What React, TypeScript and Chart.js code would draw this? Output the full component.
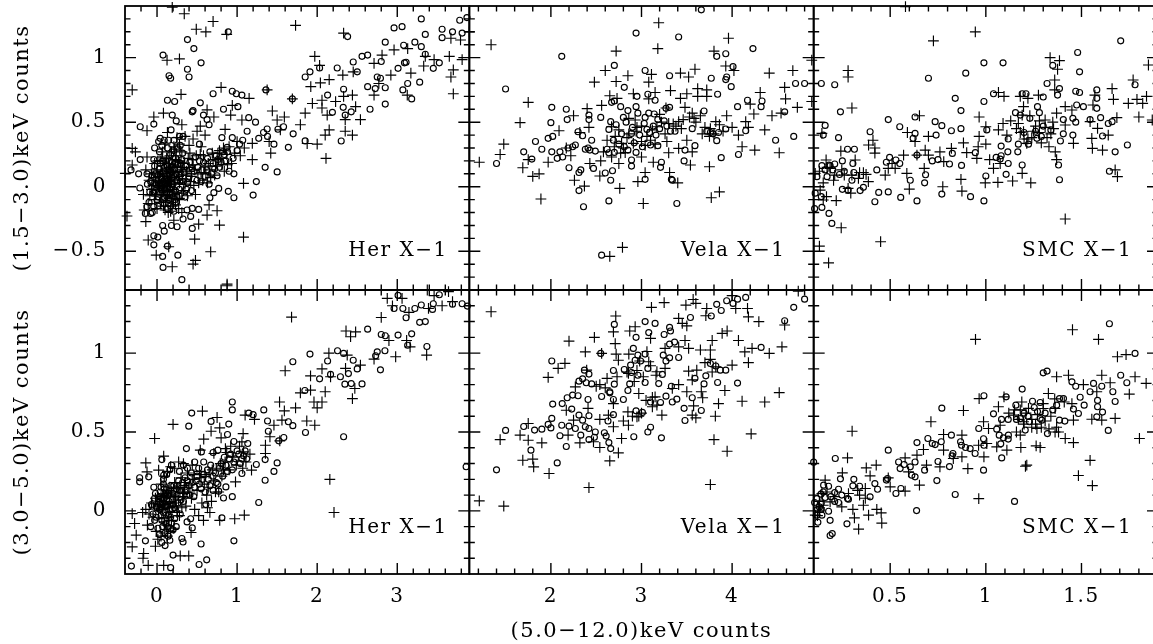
import React, { useEffect, useRef } from "react";
import { Chart, registerables } from "chart.js";

Chart.register(...registerables);

type Pt = [number, number];

const herSoftCircles: Pt[] = [[.075,1.02],[.38,1.14],[.46,1.07],[.55,.96],[.38,.91],[.4,.85],[.15,.86],[.17,.84],[.89,1.2],[.94,.74],[.99,.72],[1.06,.71],[.7,.72],[.54,.65],[.22,.66],[.13,.67],[.44,.58],[.45,.59],[.83,.6],[1.01,.62],[.58,.555],[.625,.52],[.65,.48],[.19,.555],[.24,.51],[-.21,.465],[-.04,.485],[.175,.44],[.04,.375],[.02,.35],[-.03,.3],[.145,.36],[.21,.36],[.28,.39],[.325,.39],[.29,.32],[.53,.33],[.81,.38],[.94,.38],[.875,.305],[1.07,.36],[1.125,.43],[1.145,.535],[1.23,.5],[1.27,.375],[1.33,.42],[1.375,.447],[1.38,.39],[1.46,.33],[1.35,.15],[1.5,.115],[1.51,.445],[1.58,.465],[1.64,.305],[1.7,.41],[1.69,.68],[1.36,.75],[1.85,.355],[1.85,.85],[1.91,.89],[2.03,.92],[2.25,.92],[2.13,.71],[2.33,.755],[2.19,.576],[2.325,.615],[2.3,.354],[2.35,.555],[2.425,.58],[2.5,.89],[2.45,.966],[2.56,1.01],[2.63,1.02],[2.63,.775],[2.725,.76],[2.66,.6],[2.75,.85],[2.79,.84],[2.8,.97],[2.85,1.12],[2.85,.767],[2.85,.64],[2.96,1.23],[3.06,1.24],[3.01,.917],[3.09,.96],[3.11,.964],[3.08,1.096],[3.13,.8],[3.07,.75],[3.18,.68],[3.22,1.12],[3.3,1.085],[3.3,1.3],[3.35,1.18],[3.35,1.026],[3.28,.81],[3.45,.917],[3.525,.96],[3.56,1.22],[3.56,1.155],[3.69,1.2],[3.78,1.29],[3.81,1.19],[3.87,1.31],[2.38,1.163],[1.24,.04],[1.2,-.065],[.96,-.085],[.89,-.036],[.96,.1],[.75,.085],[.77,-.013],[.66,-.085],[.71,-.046],[.44,-.168],[.52,-.176],[.375,-.18],[.42,-.23],[.325,-.25],[.25,-.31],[.18,-.3],[.07,-.3],[.09,-.344],[.44,-.323],[-.04,-.38],[.01,-.39],[-.04,-.45],[.13,-.46],[.26,-.53],[.07,-.54],[.075,-.625],[.31,-.72],[-.325,.13],[-.23,.1],[-.21,.21],[-.215,-.01],[-.125,.1],[-.146,-.207],[-.08,-.207],[-.125,-.155],[-.04,-.155],[.02,.05],[.05,-.02],[.08,.12],[.1,.03],[.12,-.05],[.15,.08],[.18,.02],[.2,-.08],[.22,.14],[.25,.05],[.28,-.02],[.04,.18],[.07,-.1],[.11,.2],[.14,-.13],[.17,.25],[.21,.28],[.24,-.12],[.3,.1],[.33,.04],[.36,.16],[.4,.08],[.43,-.03],[.46,.12],[.5,.05],[.53,.2],[.56,.13],[.6,.08],[.63,.22],[.66,.27],[.7,.18],[.74,.24],[.78,.15],[.82,.27],[.86,.2],[.9,.12],[.95,.22],[1,.28],[1.03,.33],[-.02,.1],[-.05,-.05],[-.08,.04],[-.03,.16],[0,-.1],[.01,-.15],[-.1,-.12],[-.06,-.2],[.03,.27],[.06,.32],[.09,.36],[.13,.3],[.16,.1],[.19,.19],[.23,.22],[.26,.3],[.29,.18],[.32,.26],[.35,-.08],[.38,.03],[.03,-.04],[.06,.07],[.09,-.08],[.13,.01],[.16,-.02],[.19,.07],[.09,.15],[.12,.1],[-.01,.02],[.23,-.03]];

const herSoftCoreCircles: Pt[] = [[.01,.09],[.03,.14],[.05,.06],[.07,.2],[.09,-.13],[.11,.06],[.13,.16],[.15,-.1],[.17,.12],[.19,-.05],[.21,.08],[.23,.19],[.25,-.08],[.27,.13],[.29,.04],[.31,.21],[.34,.11],[.37,-.02],[.41,.19],[.44,.14],[.48,.23],[.51,.15],[.55,.04],[.58,.19],[.62,.13],[.65,.02],[.68,.1],[.72,.14],[.76,.21],[.8,.19],[.84,.25],[.88,.27],[.06,.01],[.08,.04],[.1,-.02],[.12,.17],[.14,.05],[.16,-.06],[.18,.15],[.2,.02],[.22,-.1],[.24,.1],[.26,.17],[.28,.07],[-.03,.03],[-.06,.09],[-.09,-.04],[-.12,.02],[-.02,-.03],[-.04,.21],[.02,-.08],[.04,.1],[.15,.2],[.13,-.17],[.17,-.15],[.21,-.19]];

const herSoftCrosses: Pt[] = [[.19,1.39],[.34,1.34],[.7,1.28],[.49,1.22],[.61,1.2],[.87,1.18],[1.73,1.25],[2.33,1.19],[.125,.98],[.28,.99],[-.31,.75],[.3,.715],[.8,.77],[1.15,.685],[1.375,.75],[1.69,.68],[1.97,1.01],[2.03,.94],[1.92,.775],[2.04,.805],[2.15,.83],[2.32,.865],[2.45,.89],[2.71,.955],[2.81,1.02],[2.96,1.06],[3.13,1.07],[3.35,1.01],[3.46,.985],[3.65,1.01],[3.81,.985],[3.7,.905],[3.67,.85],[3.7,.72],[3.33,.935],[3.17,.88],[2.92,.865],[2.77,.8],[2.71,.71],[3.125,.71],[3.67,1.15],[3.9,1.2],[3.79,1.137],[2.06,.67],[1.94,.645],[1.85,.57],[2.06,.61],[2.125,.555],[2.23,.66],[2.33,.7],[2.44,.71],[2.48,.62],[2.35,.52],[2.54,.52],[2.35,.43],[2.44,.4],[2.15,.44],[2.1,.4],[2,.33],[1.875,.335],[2.11,.22],[1.79,.48],[1.59,.54],[1.44,.587],[1.5,.517],[1.54,.44],[1.42,.26],[1.4,.35],[1.19,.21],[1.08,.026],[1.08,-.39],[1.06,.517],[.92,.555],[.94,.63],[.625,.595],[.71,.54],[.31,.48],[.54,.47],[.08,.57],[-.04,.54],[-.125,.434],[.85,.444],[1.19,.336],[-.31,.297],[-.27,.27],[-.125,.23],[-.31,.168],[-.375,-.227],[-.396,.103],[.75,-.186],[.625,-.22],[.78,-.297],[.52,-.29],[.47,-.406],[.67,-.504],[.48,-.57],[.45,-.6],[.19,-.62],[.146,-.465],[-.01,-.53],[-.11,-.413],[-.14,-.27],[-.16,-.18],[.21,-.26],[.875,-.755],[.65,-.14],[0,0],[.03,.08],[.06,-.06],[.09,.04],[.12,.13],[.15,-.09],[.18,.05],[.21,.16],[.24,-.05],[.27,.08],[.3,.19],[.33,-.03],[.36,.09],[.39,.22],[.42,.04],[.45,.17],[.48,-.06],[.51,.1],[.54,.25],[.57,.05],[.6,.16],[.63,.03],[.66,.13],[.69,.26],[.72,.09],[.75,.21],[.78,.28],[.81,.17],[.84,.12],[.87,.25],[.9,.31],[.93,.18],[.97,.26],[1,.35],[1.04,.24],[1.09,.3],[-.04,.07],[-.07,-.02],[-.1,.05],[-.14,.13],[-.17,-.06],[-.03,-.1],[0,-.17],[.04,.2],[.07,.27],[.1,.33],[.13,.42],[.16,.24],[.19,-.15],[.22,.29],[.25,.38],[.28,.33],[.31,.27],[.35,.39],[.4,.32],[.45,.37],[.5,.43],[.55,.31],[.6,.4],[.03,-.01],[.06,.03],[.09,-.03],[.12,.01],[.15,.06],[.11,-.11],[.17,.11],[.05,.12],[.22,.02],[.28,-.09],[.32,.13],[.13,-.07]];

const herSoftCoreCrosses: Pt[] = [[.02,.03],[.04,-.07],[.07,.1],[.08,-.03],[.1,.08],[.11,-.06],[.13,.05],[.14,.18],[.16,-.04],[.17,.02],[.19,.12],[.2,-.02],[.22,.07],[.23,.21],[.25,.12],[.26,-.1],[.28,.03],[.29,.15],[.31,-.05],[.32,.06],[.34,.18],[.35,.02],[.37,.12],[.38,-.07],[.4,.15],[.41,.26],[.43,.08],[.44,.21],[.46,.01],[.47,.13],[.49,.24],[.52,.03],[.55,.11],[.58,.24],[.61,.1],[.64,.18],[.67,.07],[.7,.21],[.73,.16],[.76,.26],[.8,.22],[.83,.3],[.88,.17],[-.02,.05],[-.05,.01],[-.07,.1],[-.09,-.07],[-.11,-.13],[-.02,-.06],[0,.13],[.01,.2],[-.03,.18],[.05,-.12],[.08,-.15],[.1,-.18],[.14,-.2],[.17,-.19],[.23,-.14],[.27,-.17],[.31,-.2],[.06,.23],[.09,.18],[.12,.22],[.15,.15],[.18,.27],[.21,.31],[.24,.24],[.27,.2],[.04,.02],[.07,-.01],[.1,.01],[.13,-.03],[.16,.03]];

const velaSoftCircles: Pt[] = [[3.66,1.37],[2.94,1.19],[3.41,1.16],[2.12,1.01],[2.7,.94],[3.93,1.03],[3.83,1.01],[4.23,1.07],[4.01,.93],[3.04,.9],[3.31,.86],[3.77,.84],[3.94,.85],[3.93,.83],[3.99,.775],[1.5,.757],[2.81,.77],[4.7,.8],[4.8,.8],[3.84,.716],[2.95,.7],[3.07,.716],[3.15,.67],[4.17,.67],[4.33,.664],[2.67,.654],[2.7,.664],[2.01,.615],[2.17,.6],[2.77,.62],[2.94,.62],[4.06,.62],[4.32,.62],[2.18,.52],[2.42,.555],[2.42,.52],[2.55,.537],[2.85,.59],[2.96,.57],[3.04,.537],[3.08,.57],[3.14,.563],[3.18,.52],[3.27,.607],[3.31,.615],[3.69,.587],[4.58,.58],[2,.496],[2.66,.504],[2.8,.537],[3.25,.51],[2.64,.444],[2.3,.426],[2.35,.395],[1.97,.375],[2.02,.39],[1.83,.35],[2.45,.36],[2.69,.36],[3.06,.444],[3.32,.43],[3.37,.43],[3.56,.45],[3.93,.447],[4.15,.434],[3.76,.42],[4.68,.39],[4.48,.36],[3.83,.357],[3.16,.4],[2.89,.413],[1.7,.27],[1.9,.29],[2.01,.27],[2.1,.27],[2.07,.22],[2.13,.23],[2.19,.3],[2.24,.31],[2.27,.323],[2.38,.29],[2.41,.3],[2.43,.284],[2.49,.276],[2.62,.29],[2.64,.263],[2.7,.266],[3.01,.31],[3.1,.323],[3.18,.318],[2.94,.266],[2.85,.284],[3.48,.284],[3.59,.318],[3.88,.225],[4.07,.25],[1.4,.18],[1.79,.214],[2.2,.147],[2.47,.142],[2.89,.207],[2.89,.16],[3.22,.19],[3.21,.15],[3.47,.2],[2.33,.13],[2.31,.11],[2.6,.106],[2.68,.124],[2.66,.05],[3.04,.057],[3.33,.057],[3.34,.05],[2.31,-.03],[2.64,-.11],[2.36,-.155],[3.39,-.13],[2.56,-.53],[2.72,.48],[2.78,.41],[2.83,.5],[2.9,.46],[2.98,.4],[3.03,.49],[3.09,.42],[3.13,.47],[3.2,.45],[3.28,.47],[3.72,.43],[3.79,.41],[3.85,.42],[2.75,.33],[2.81,.31],[2.92,.34]];

const velaSoftCrosses: Pt[] = [[3.19,1.27],[3.96,1.15],[1.34,1.1],[2.72,1.05],[3.18,1.07],[3.8,1.05],[3.93,.935],[4.02,.9],[2.6,.9],[2.48,.81],[2.72,.815],[2.85,.86],[3.11,.87],[3.08,.81],[3.43,.88],[3.52,.85],[3.59,.91],[4.41,.88],[4.67,.9],[4.58,.77],[4.59,.68],[4.72,.615],[4.31,.73],[4.2,.64],[1.75,.654],[1.66,.496],[1.48,.33],[1.44,.25],[1.21,.19],[1.69,.147],[1.75,.21],[1.8,.08],[1.87,.1],[1.89,-.095],[1.97,.19],[2.09,.434],[2.25,.55],[2.4,.605],[2.56,.63],[2.65,.705],[2.73,.685],[2.91,.72],[3.15,.73],[3.32,.744],[3.43,.685],[3.5,.72],[3.62,.76],[3.62,.7],[3.72,.75],[3.72,.7],[3.08,.68],[3.27,.61],[3.48,.615],[3.56,.57],[3.65,.55],[3.94,.55],[3.82,.504],[3.76,.45],[4,.46],[4.15,.504],[4.24,.563],[4.44,.55],[4.54,.57],[4.36,.44],[4.07,.4],[4.18,.46],[4.11,.31],[4.25,.284],[4.52,.263],[3.75,.155],[3.54,.168],[3.56,.27],[3.41,.297],[3.3,.263],[3.75,.39],[3.67,.41],[3.5,.36],[3.35,.486],[3.41,.504],[3.17,.465],[3,.47],[2.93,.517],[2.86,.53],[2.75,.44],[2.67,.465],[2.42,.46],[2.32,.42],[2.17,.3],[2.22,.24],[2.43,.18],[2.55,.2],[2.67,.23],[2.75,.18],[2.82,.264],[2.91,.336],[3,.35],[3.1,.36],[3,.23],[3.13,.19],[3.31,.11],[3.4,.03],[2.96,.04],[3.04,.11],[2.76,-.013],[2.54,.083],[2.26,.05],[2.37,.005],[3.02,-.13],[3.77,-.085],[3.86,-.04],[2.65,-.54],[2.79,-.47],[2.86,.41],[2.71,.39],[2.78,.336],[3.26,.41],[2.62,.36],[2.8,.3],[2.95,.46],[3.06,.39],[3.22,.5],[3.44,.45],[3.6,.5],[3.28,.35],[3.15,.33],[2.58,.27],[2.7,.31],[2.77,.26],[2.84,.38],[2.94,.43],[3.04,.32],[3.12,.44],[3.2,.56],[3.3,.49],[3.38,.47],[3.46,.52],[3.53,.54],[3.58,.53],[3.7,.46],[3.8,.41],[3.86,.48],[3.9,.43]];

const smcSoftCircles: Pt[] = [[1.705,1.13],[1.48,1.04],[1.49,.89],[1.35,.94],[.99,.96],[1.09,.96],[.895,.88],[.7,.84],[.14,.8],[.21,.79],[1.32,.8],[.84,.685],[.99,.66],[1.04,.72],[1.385,.76],[1.375,.71],[1.47,.74],[1.49,.73],[1.58,.75],[1.58,.685],[1.78,.79],[1.19,.72],[1.21,.72],[1.3,.695],[.24,.58],[.87,.59],[.63,.54],[.49,.52],[.735,.504],[.77,.473],[.55,.465],[.16,.475],[.15,.4],[.23,.38],[.395,.426],[.63,.413],[.62,.375],[.74,.4],[.82,.434],[.87,.45],[1.005,.44],[1.155,.574],[1.18,.555],[1.23,.53],[1.27,.62],[1.28,.574],[1.51,.62],[1.475,.633],[1.58,.607],[1.405,.52],[1.455,.53],[1.47,.5],[1.545,.52],[1.6,.535],[1.64,.49],[1.66,.504],[1.61,.393],[1.405,.41],[1.455,.4],[1.39,.354],[1.117,.37],[1.74,.323],[1.676,.27],[1.646,.12],[1.117,.18],[1.19,.168],[1.38,.168],[1.385,.054],[1.106,.096],[1,.083],[1.167,.27],[1.115,.27],[1.08,.24],[1.054,.227],[1.075,.214],[1.08,.315],[.945,.264],[.873,.165],[.81,.176],[.75,.21],[.72,.2],[.825,.258],[.64,.245],[.55,.18],[.53,.207],[.497,.227],[.48,.19],[.43,.13],[.605,.05],[.68,.03],[.685,.093],[.77,-.057],[.92,-.077],[.99,-.11],[.64,-.11],[.555,-.083],[.49,-.04],[.44,-.044],[.42,-.116],[.343,-.03],[.36,-.005],[.28,-.026],[.25,-.02],[.31,.11],[.305,.18],[.277,.29],[.313,.29],[.25,.2],[.21,.176],[.186,.163],[.18,.168],[.143,.163],[.117,.078],[.17,.078],[.235,.095],[.108,-.05],[.14,-.077],[.18,-.207],[.143,-.16],[.105,-.17],[.195,-.284],[1.29,.39],[1.267,.375],[1.223,.33],[1.17,.33],[1.26,.43],[1.3,.47],[1.2,.42],[1.34,.44],[.16,.13],[.2,.13],[.26,.12],[.3,.05]];

const smcSoftCrosses: Pt[] = [[.58,1.395],[.945,1.2],[.726,1.13],[.09,.98],[.28,.9],[.28,.85],[.09,.66],[.3,.61],[.143,.413],[1.336,1],[1.385,.977],[1.375,.91],[1.36,.827],[1.36,.75],[1.066,.73],[1.095,.7],[1.18,.7],[1.22,.685],[1.275,.71],[1.197,.62],[1.19,.555],[1.66,.76],[1.667,.677],[1.77,.827],[1.745,.646],[1.79,.677],[1.82,.646],[1.85,.943],[1.84,.7],[1.8,.54],[1.685,.535],[1.87,.517],[1.64,.4],[1.61,.284],[1.557,.297],[1.554,.375],[1.584,.452],[1.545,.504],[1.56,.633],[1.57,.71],[1.458,.336],[1.45,.594],[1.415,.62],[1.37,.57],[1.415,.478],[1.676,.13],[1.688,.078],[1.415,-.25],[.965,.54],[.653,.55],[1.09,.49],[1,.465],[1.066,.44],[1.11,.4],[1.17,.49],[1.197,.426],[1.214,.336],[1.31,.517],[1.354,.45],[1.33,.31],[1.363,.27],[1.37,.21],[.965,.39],[1,.33],[.96,.31],[.883,.34],[.82,.297],[.76,.27],[.7,.39],[.683,.284],[.7,.245],[.63,.35],[.59,.42],[.64,.245],[.57,.245],[.51,.18],[.49,.142],[.587,.103],[.678,.142],[.78,.194],[.9,.264],[.953,.22],[1.02,.21],[1.04,.142],[1.075,.18],[1.19,.103],[1.14,.044],[1.063,.034],[.997,.03],[1.235,.03],[.87,.057],[.775,0],[.875,-.034],[.6,-.018],[.45,-.426],[.244,-.318],[.13,-.46],[.178,-.59],[.218,-.108],[.15,-.103],[.167,-.077],[.134,-.026],[.294,-.05],[.28,-.013],[.386,.04],[.374,.096],[.334,.065],[.474,.09],[.526,.142],[.42,.26],[.42,.3],[.41,.36],[.387,.323],[.317,.207],[.242,.276],[.165,.207],[.108,.103],[.15,.03],[.204,.05],[.247,.13],[.186,.142],[1.22,.37],[1.25,.43],[1.29,.34],[1.26,.47],[1.34,.41],[1.31,.46],[1.23,.55],[1.18,.42],[1.2,.37],[1.24,.38],[1.28,.42],[1.32,.38],[1.35,.5],[1.28,.51],[1.16,.45],[1.13,.51],[.13,.12],[.17,.15],[.21,.09],[.26,.09],[.3,.09],[.34,.11],[.36,.11]];

const herHardCircles: Pt[] = [[3.86,.28],[2.33,.47],[1.27,.053],[.96,-.19],[.55,-.21],[.62,-.31],[.525,-.34],[.17,-.36],[-.32,-.35],[.2,-.28],[.1,-.22],[-.145,-.19],[.44,-.108],[.375,-.07],[.16,-.186],[.31,-.175],[.325,-.197],[.81,-.044],[.83,.082],[.94,.09],[1.35,.194],[1.46,.25],[1.5,.304],[1.35,.325],[1.24,.294],[1.06,.237],[.86,.152],[.77,.125],[-.217,.21],[-.217,.184],[-.104,.216],[.083,.226],[.06,.325],[.18,.29],[.367,.395],[.396,.537],[.433,.62],[.675,.567],[.896,.55],[.88,.484],[.94,.69],[.94,.64],[.96,.44],[.76,.385],[.7,.37],[.554,.374],[.583,.31],[1.133,.427],[1.146,.62],[1.2,.61],[1.333,.64],[1.38,.57],[1.39,.505],[1.52,.444],[1.583,.465],[1.64,.565],[1.696,.54],[1.854,.497],[1.696,.945],[1.91,.994],[1.846,.763],[2.13,.95],[2.03,.837],[2.254,1.015],[2.167,.865],[2.29,.85],[2.346,.803],[2.39,.87],[2.425,.807],[2.45,.955],[2.5,.9],[2.56,.805],[2.33,.998],[2.63,1.152],[2.79,.894],[2.73,.983],[2.75,1.008],[2.8,1.118],[2.85,1.11],[2.846,1.015],[3.01,1.114],[3.18,1.122],[3.13,1.05],[3.37,1.042],[3.28,1.195],[3.35,1.2],[3.01,1.366],[2.96,1.283],[3.07,1.283],[3.11,1.224],[3.22,1.283],[3.3,1.305],[3.44,1.277],[3.45,1.313],[3.525,1.37],[3.81,1.313],[3.875,1.298],[3.69,1.31],[0,.02],[.03,.09],[.05,-.03],[.07,.05],[.09,.14],[.11,-.08],[.13,.03],[.15,.11],[.17,-.04],[.19,.07],[.21,.16],[.23,.01],[.25,.1],[.27,.19],[.29,-.02],[.31,.13],[.33,.06],[.35,.21],[.37,.1],[.4,.16],[.43,.24],[.46,.09],[.49,.19],[.52,.27],[.55,.14],[.58,.23],[.61,.04],[.64,.2],[.67,.29],[.7,.13],[.73,.24],[.76,.17],[.8,.3],[.84,.34],[.88,.25],[.92,.36],[.96,.31],[1,.38],[1.04,.3],[1.08,.35],[1.12,.33],[-.03,-.06],[-.06,.03],[-.08,-.1],[-.02,.11],[-.04,.15],[.01,-.11],[.03,-.15],[.06,-.2],[.08,.2],[.12,.23],[.16,.26],[.2,-.12],[.24,-.1],[.28,.25],[.33,.29],[.38,.27],[.42,-.05],[.47,.31],[.04,.04],[.08,-.01],[.12,.07],[.16,.01],[.1,.1],[.14,-.03],[.06,.08],[.2,.04],[.22,-.05]];

const herHardCoreCircles: Pt[] = [[.02,.06],[.04,.12],[.06,-.06],[.08,.17],[.09,.03],[.11,.12],[.13,-.1],[.15,.06],[.17,.16],[.18,-.08],[.2,.11],[.22,.02],[.24,.14],[.26,.05],[.28,.13],[.3,.07],[.32,.18],[.35,.12],[.38,.19],[.41,.1],[.44,.18],[.47,.15],[.5,.22],[.53,.17],[.57,.2],[.6,.12],[.63,.26],[.66,.16],[.7,.22],[.74,.18],[.78,.27],[.82,.22],[.86,.29],[.9,.33],[.94,.26],[.98,.33],[1.02,.36],[1.06,.33],[1.1,.38],[-.01,.03],[-.03,.08],[-.05,-.02],[-.07,.04],[-.01,-.04],[.03,.01],[.07,-.1],[.1,-.14],[.14,-.16],[.17,-.11],[.05,.15],[.11,.03],[.15,-.02],[.19,.01],[.13,.1],[.09,.08]];

const herHardCrosses: Pt[] = [[1.68,1.228],[1.6,.888],[1.53,.69],[1.59,.634],[1.73,.653],[1.46,.543],[1.56,.575],[1.87,.57],[1.97,.543],[1.217,.58],[1.1,.607],[.567,.632],[.2,.548],[-.03,.459],[.75,.592],[.783,.526],[.675,.505],[.583,.455],[.8,.463],[1.075,.49],[1.06,.437],[1.41,.47],[1.354,.416],[1.354,.364],[1.533,.444],[1.18,.258],[.98,.184],[2.158,.2],[2.21,-.01],[.97,-.05],[1.09,-.027],[.783,-.06],[1.79,.748],[1.917,.765],[1.96,.69],[2.1,.755],[2.06,.69],[2,.653],[1.917,.856],[2.06,.9],[2.146,1],[2.167,.85],[2.354,.903],[2.375,.987],[2.48,1.135],[2.36,1.14],[2.417,1.104],[2.44,.712],[2.47,.776],[2.54,.924],[2.71,.962],[2.98,.977],[3.367,.987],[3.16,1.04],[3.117,1.08],[2.896,1.08],[2.8,1.226],[2.875,1.347],[3.06,1.347],[2.94,1.3],[3.146,1.258],[3.375,1.4],[3.39,1.283],[3.56,1.3],[3.64,1.39],[3.69,1.326],[3.46,1.364],[.875,1.427],[1.08,.374],[.854,.395],[.71,.364],[.54,.385],[.44,.29],[.083,.347],[-.14,.304],[-.125,.247],[.02,.258],[.27,.31],[-.31,-.017],[-.28,-.08],[-.26,-.154],[-.31,-.228],[-.167,-.27],[-.175,-.3],[-.11,-.345],[.083,-.345],[.29,-.285],[.396,-.285],[-.02,-.224],[.425,-.137],[.02,0],[.04,.06],[.06,-.05],[.08,.1],[.1,.02],[.12,-.09],[.14,.13],[.16,.05],[.18,-.06],[.2,.1],[.22,.18],[.24,.03],[.26,.14],[.28,-.03],[.3,.21],[.32,.09],[.34,.16],[.36,.03],[.38,.24],[.41,.12],[.44,.2],[.47,.01],[.5,.13],[.53,.25],[.56,.05],[.59,.17],[.62,.1],[.65,.24],[.68,.06],[.71,.19],[.74,.27],[.77,.12],[.81,.22],[.85,.31],[.9,.26],[.94,.34],[.99,.29],[1.03,.41],[1.07,.27],[1.11,.31],[1.16,.36],[-.02,.08],[-.05,-.04],[-.07,.05],[-.1,-.02],[-.12,-.09],[-.14,.01],[-.18,-.01],[-.01,-.13],[.01,-.18],[.05,-.16],[.09,-.14],[.13,-.16],[.17,-.13],[.21,-.11],[.05,.17],[.09,.22],[.13,.25],[.17,.28],[.22,.27],[.33,.3],[.52,-.03],[.58,-.06],[.63,.02],[.66,-.01],[.03,.03],[.07,.01],[.11,.06],[.15,-.01],[.19,.03],[.09,-.07],[.01,.04],[.05,.09],[.08,.04],[.12,.11],[.14,-.04],[.16,.15],[.18,.12],[.21,.05],[.23,.09],[.25,-.01],[.27,.07],[.29,.15],[.31,.02],[.33,.11],[.35,.18],[.39,.15],[.43,.08],[.46,.23],[.55,.21],[.6,.23],[.64,.15],[.69,.26],[.73,.12],[.79,.3],[.83,.26],[.87,.37],[.92,.41]];

const velaHardCircles: Pt[] = [[4.15,1.353],[4.06,1.342],[3.94,1.332],[4.01,1.315],[3.83,1.309],[3.88,1.27],[4.8,1.342],[4.68,1.29],[4.58,1.205],[3.77,1.235],[3.54,1.226],[3.04,1.2],[3.15,1.188],[2.7,1.182],[3.31,1.163],[3.32,1.14],[3.08,1.13],[3.25,1.118],[2.94,1.1],[3.365,1.07],[3.31,1.057],[4.32,1.036],[2.91,1.03],[2.55,.998],[3.04,.994],[3.24,.987],[2.96,.987],[3.41,.972],[3.31,.97],[2.01,.95],[2.93,.955],[2.99,.95],[3.07,.903],[3.27,.95],[3.76,.934],[3.82,.918],[3.87,.892],[3.93,.892],[2.37,.892],[2.69,.89],[2.81,.896],[2.88,.924],[2.89,.877],[2.96,.86],[3.23,.865],[2.42,.867],[2.35,.837],[2.31,.822],[2.39,.812],[2.45,.805],[2.7,.803],[3.04,.814],[3.19,.807],[3.33,.79],[3.71,.856],[3.84,.814],[3.69,.805],[4.06,.81],[3.59,.84],[2.87,.805],[2.85,.763],[2.65,.755],[2.56,.725],[2.3,.73],[2.24,.734],[2.18,.717],[2.125,.68],[2.02,.677],[2.41,.706],[2.65,.748],[2.8,.706],[2.69,.706],[3.27,.727],[3.56,.717],[3.34,.69],[3.39,.708],[3.47,.65],[3.66,.636],[3.21,.687],[3.1,.69],[2.23,.645],[2.31,.607],[2.42,.603],[2.69,.61],[2.63,.57],[2.94,.634],[3.01,.624],[3.48,.573],[2.01,.586],[2.35,.575],[2.12,.543],[2.2,.537],[2,.526],[1.97,.548],[1.7,.535],[1.82,.512],[1.9,.518],[1.5,.51],[2.27,.522],[2.38,.533],[2.42,.522],[2.33,.48],[2.49,.5],[2.59,.495],[2.61,.474],[2.1,.476],[2.48,.467],[2.42,.452],[2.64,.433],[2.17,.408],[2.915,.47],[3.07,.5],[3.1,.53],[3.22,.463],[2.66,.395],[1.78,.385],[2.07,.304],[1.4,.26]];

const velaHardCrosses: Pt[] = [[1.34,1.262],[3.25,1.32],[3.57,1.34],[3.49,1.304],[3.6,1.315],[3.72,1.283],[3.11,1.29],[4,1.364],[4.73,1.393],[4.04,1.283],[4.17,1.283],[4.18,1.23],[4.295,1.2],[3.71,1.237],[3.41,1.22],[3.45,1.188],[3.5,1.173],[2.93,1.167],[2.716,1.235],[2.69,1.135],[2.87,1.14],[2.48,1.1],[2.2,1.076],[2.38,1.008],[2.71,1.06],[2.72,.994],[2.56,.998],[2.86,.994],[2.745,.955],[3.1,1.093],[3.26,1.03],[3.41,1.04],[3.48,1.08],[3.52,1.03],[3.65,1.02],[3.76,1.02],[3.78,1.08],[3.89,1.125],[3.945,1.14],[4.07,1.08],[4.14,1.008],[4.22,1.03],[4.41,.998],[4.55,1.04],[4.58,1.178],[4.18,.94],[4,.924],[3.82,.913],[2.155,.935],[2.08,.903],[1.97,.846],[2.395,.892],[2.27,.786],[2.54,.8],[2.62,.84],[2.73,.85],[2.856,.871],[3.08,.945],[3.26,.903],[3.17,.882],[3.52,.886],[3.61,.892],[3.56,.83],[3.41,.8],[3.34,.776],[3.5,.755],[3.66,.755],[3.92,.763],[3.675,.717],[3.85,.68],[4.11,.695],[4.36,.69],[4.52,.75],[3.815,.6],[3.575,.666],[3.56,.607],[3.6,.59],[3.225,.607],[3.15,.723],[2.97,.744],[2.69,.68],[2.635,.607],[2.54,.58],[2.85,.628],[2.8,.57],[2.95,.596],[3,.62],[2.41,.65],[2.17,.638],[2.25,.575],[2.19,.48],[2.32,.431],[2.47,.438],[2.54,.402],[2.745,.368],[2.65,.317],[2.78,.459],[2.69,.533],[2.856,.543],[1.66,.48],[1.75,.554],[1.75,.448],[1.9,.431],[1.44,.452],[1.69,.321],[1.8,.328],[1.81,.279],[1.98,.237],[2.42,.148],[1.21,.063],[1.48,.03],[3.8,.452],[3.945,.378],[4.21,.488],[3.76,.167],[2.95,.89],[3.02,.85],[3.1,.92],[3.16,.86],[2.98,.95],[3.06,1.01],[2.84,.88],[2.92,.82],[3.12,.72],[3.05,.7],[2.9,.6],[2.97,.6],[3.12,.66],[3.17,.67],[2.6,.78],[2.5,.79],[3.7,.94],[3.76,.96],[3.78,.88]];

const smcHardCircles: Pt[] = [[1.646,1.186],[1.78,.998],[1.32,.886],[1.3,.875],[1.19,.772],[.99,.73],[1.705,.86],[1.737,.812],[1.563,.808],[1.606,.79],[1.676,.693],[1.664,.755],[1.64,.51],[1.61,.626],[1.58,.596],[1.584,.66],[1.584,.7],[1.545,.755],[1.45,.818],[1.47,.79],[1.493,.72],[1.514,.67],[1.458,.645],[1.484,.617],[1.413,.569],[1.385,.575],[1.322,.49],[1.293,.575],[1.406,.712],[1.385,.712],[1.284,.687],[1.244,.695],[1.157,.67],[1.253,.655],[1.106,.723],[1.04,.615],[.963,.522],[1.082,.58],[1.117,.58],[1.057,.518],[1.07,.48],[1.092,.463],[1.118,.48],[1.117,.455],[1.078,.425],[1.083,.336],[.988,.457],[.99,.416],[.944,.364],[.918,.395],[.894,.402],[.868,.438],[.873,.416],[.828,.364],[.824,.349],[.81,.281],[.988,.258],[.82,.48],[.77,.651],[.767,.438],[.735,.42],[.72,.427],[.697,.459],[.64,.433],[.49,.385],[.213,.332],[.1,.309],[.75,.313],[.68,.258],[.744,.192],[.84,.104],[.638,.002],[.63,.216],[.613,.226],[.605,.279],[.63,.31],[.573,.294],[.552,.268],[.544,.31],[.556,.142],[.53,.11],[.486,.205],[.48,.195],[.434,.137],[.42,.173],[.395,.089],[.34,.156],[.305,.159],[.31,.2],[.24,.203],[.277,.078],[.274,-.082],[.197,-.144],[.186,-.156],[.186,-.06],[.178,-.002],[.122,-.072],[.117,-.027],[.105,.053],[.117,.078],[.138,.106],[.152,.163],[.178,.156],[.16,.085],[.23,.137],[.23,.053],[.21,.116],[.247,.1],[.282,.074],[.13,.025],[.143,-.027],[1.228,.565],[1.206,.512],[1.18,.585],[1.284,.585],[1.16,.58],[1.2,.62],[1.22,.6],[1.27,.63],[1.31,.62],[1.35,.64],[1.37,.67],[1.15,.06],[.14,.05],[.15,.12],[.19,.09],[.21,.06],[.14,.01],[.12,.01]];

const smcHardCrosses: Pt[] = [[1.453,1.148],[1.589,1.087],[.946,1.087],[1.688,.977],[1.733,.99],[1.432,.86],[1.37,.85],[1.606,.86],[1.65,.812],[1.78,.85],[1.838,.808],[1.75,.74],[1.676,.586],[1.803,.459],[1.606,.575],[1.554,.581],[1.51,.8],[1.458,.575],[1.58,.755],[1.458,.433],[1.415,.459],[1.362,.5],[1.284,.402],[1.263,.412],[1.183,.402],[1.214,.29],[1.207,.283],[1.545,.32],[1.484,.224],[1.557,.16],[.963,.078],[.906,.268],[.99,.342],[.965,.712],[.883,.636],[.713,.565],[.301,.505],[1.095,.723],[1.066,.66],[.988,.565],[1.014,.522],[1.075,.543],[1.145,.607],[1.188,.69],[1.223,.65],[1.197,.565],[1.18,.48],[1.267,.522],[1.3,.649],[1.327,.744],[1.362,.649],[1.38,.5],[1.45,.68],[1.057,.406],[1.11,.385],[1.005,.427],[.962,.416],[.875,.48],[.779,.484],[.875,.342],[.83,.332],[.76,.279],[.779,.385],[.674,.389],[.64,.353],[.578,.336],[.69,.29],[.653,.163],[.578,.125],[.596,.247],[.49,.209],[.5,.152],[.427,.29],[.375,.273],[.395,.222],[.277,.336],[.25,.241],[.16,.195],[.37,.142],[.36,.036],[.305,.01],[.313,-.044],[.335,-.116],[.387,-.027],[.43,.01],[.453,-.013],[.456,-.078],[.247,.025],[.282,.11],[.186,.057],[.15,.036],[.108,-.027],[.143,.11],[1.15,.64],[1.17,.58],[1.21,.62],[1.24,.58],[1.27,.61],[1.31,.57],[1.34,.6],[1.37,.53],[1.12,.62],[1.24,.53],[1.18,.64],[1.2,.55],[1.26,.55],[1.3,.68],[1.33,.52],[1.36,.71],[1.41,.69],[1.16,.5],[1.29,.53],[.17,.12],[.21,.09],[.13,.06],[.34,.1],[.37,.08],[.33,.13],[.13,.02],[.12,-.03]];

const sourceLabels = ["Her X\u22121", "Vela X\u22121", "SMC X\u22121"];
const softTitle = "(1.5\u22123.0)keV counts";
const hardTitle = "(3.0\u22125.0)keV counts";
const bottomTitle = "(5.0\u221212.0)keV counts";

const herRange = [-0.4, 3.9];
const velaRange = [1.1, 4.9];
const smcRange = [0.1, 1.9];
const softRange = [-0.8, 1.4];
const hardRange = [-0.4, 1.4];

const herMajor = [0, 1, 2, 3];
const velaMajor = [2, 3, 4];
const smcMajor = [0.5, 1, 1.5];
const softMajor = [-0.5, 0, 0.5, 1];
const hardMajor = [0, 0.5, 1];

const herMinor = [-0.2, 0.2, 0.4, 0.6, 0.8, 1.2, 1.4, 1.6, 1.8, 2.2, 2.4, 2.6, 2.8, 3.2, 3.4, 3.6, 3.8];
const velaMinor = [1.2, 1.4, 1.6, 1.8, 2.2, 2.4, 2.6, 2.8, 3.2, 3.4, 3.6, 3.8, 4.2, 4.4, 4.6, 4.8];
const smcMinor = [0.2, 0.3, 0.4, 0.6, 0.7, 0.8, 0.9, 1.1, 1.2, 1.3, 1.4, 1.6, 1.7, 1.8];
const softMinor = [-0.7, -0.6, -0.4, -0.3, -0.2, -0.1, 0.1, 0.2, 0.3, 0.4, 0.6, 0.7, 0.8, 0.9, 1.1, 1.2, 1.3];
const hardMinor = [-0.3, -0.2, -0.1, 0.1, 0.2, 0.3, 0.4, 0.6, 0.7, 0.8, 0.9, 1.1, 1.2, 1.3];

const labelAnchors: [string, string, string, number, number][] = [
  ["x1", "y1", sourceLabels[0], 3.63, -0.5],
  ["x2", "y1", sourceLabels[1], 4.59, -0.5],
  ["x3", "y1", sourceLabels[2], 1.765, -0.5],
  ["x1", "y2", sourceLabels[0], 3.63, -0.108],
  ["x2", "y2", sourceLabels[1], 4.59, -0.108],
  ["x3", "y2", sourceLabels[2], 1.765, -0.108],
];

const FONT = "'DejaVu Serif', serif";
const INK = "#000";
const CANVAS_SHIFT = 24;

const frameAndTicks = {
  id: "frameAndTicks",
  beforeDraw(chart: any) {
    chart.ctx.letterSpacing = "1.5px";
  },
  afterDatasetsDraw(chart: any) {
    const { ctx, scales } = chart;
    const columns: [string, number[], number[]][] = [["x1", herMajor, herMinor], ["x2", velaMajor, velaMinor], ["x3", smcMajor, smcMinor]];
    const rows: [string, number[], number[]][] = [["y1", softMajor, softMinor], ["y2", hardMajor, hardMinor]];
    const MAJOR = 11;
    const MINOR = 5.5;
    ctx.save();
    ctx.strokeStyle = INK;
    for (const [xId, xMaj, xMin] of columns) {
      for (const [yId, yMaj, yMin] of rows) {
        const xs = scales[xId];
        const ys = scales[yId];
        ctx.lineWidth = 1.8;
        ctx.strokeRect(xs.left, ys.top, xs.right - xs.left, ys.bottom - ys.top);
        ctx.lineWidth = 1.4;
        ctx.beginPath();
        const xTick = (v: number, len: number) => {
          const p = xs.getPixelForValue(v);
          ctx.moveTo(p, ys.top);
          ctx.lineTo(p, ys.top + len);
          ctx.moveTo(p, ys.bottom);
          ctx.lineTo(p, ys.bottom - len);
        };
        const yTick = (v: number, len: number) => {
          const p = ys.getPixelForValue(v);
          ctx.moveTo(xs.left, p);
          ctx.lineTo(xs.left + len, p);
          ctx.moveTo(xs.right, p);
          ctx.lineTo(xs.right - len, p);
        };
        xMaj.forEach((v) => xTick(v, MAJOR));
        xMin.forEach((v) => xTick(v, MINOR));
        yMaj.forEach((v) => yTick(v, MAJOR));
        yMin.forEach((v) => yTick(v, MINOR));
        ctx.stroke();
      }
    }
    ctx.fillStyle = INK;
    ctx.font = `20px ${FONT}`;
    ctx.textAlign = "right";
    ctx.textBaseline = "middle";
    for (const [xId, yId, text, x, y] of labelAnchors) {
      ctx.fillText(text, scales[xId].getPixelForValue(x), scales[yId].getPixelForValue(y));
    }
    ctx.restore();
  },
};

function series(data: Pt[], xAxisID: string, yAxisID: string, marker: "circle" | "cross") {
  return {
    data,
    xAxisID,
    yAxisID,
    pointStyle: marker,
    pointRadius: marker === "circle" ? 3 : 5.4,
    pointBorderWidth: 1.15,
    pointBorderColor: INK,
    pointBackgroundColor: "rgba(0,0,0,0)",
    showLine: false,
    clip: false,
  };
}

function xAxis(range: number[], major: number[], title?: string) {
  return {
    type: "linear",
    position: "bottom",
    stack: "columns",
    stackWeight: 1,
    min: range[0],
    max: range[1],
    grid: { display: false, drawTicks: false },
    border: { display: false },
    afterBuildTicks: (axis: any) => {
      axis.ticks = major.map((value) => ({ value }));
    },
    afterFit: (axis: any) => {
      axis.height = 70;
    },
    ticks: {
      autoSkip: false,
      maxRotation: 0,
      minRotation: 0,
      padding: 11,
      color: INK,
      font: { family: FONT, size: 20 },
      callback: (v: number) => String(v),
    },
    title: title
      ? { display: true, text: title, color: INK, font: { family: FONT, size: 21 }, padding: { top: 9, bottom: 0 } }
      : { display: false },
  };
}

function yAxis(range: number[], major: number[], title: string, weight: number) {
  return {
    type: "linear",
    position: "left",
    stack: "rows",
    stackWeight: 1,
    weight,
    min: range[0],
    max: range[1],
    grid: { display: false, drawTicks: false },
    border: { display: false },
    afterBuildTicks: (axis: any) => {
      axis.ticks = major.map((value) => ({ value }));
    },
    afterFit: (axis: any) => {
      axis.width = 125;
    },
    ticks: {
      autoSkip: false,
      padding: 18,
      color: INK,
      font: { family: FONT, size: 20 },
      callback: (v: number) => String(v).replace("-", "\u2212"),
    },
    title: { display: true, text: title, color: INK, font: { family: FONT, size: 21 }, padding: { top: 10, bottom: 0 } },
  };
}

export default function App() {
  const ref = useRef<HTMLCanvasElement>(null);
  useEffect(() => {
    const chart = new Chart(ref.current as HTMLCanvasElement, {
      type: "scatter",
      data: {
        datasets: [
          series(herSoftCircles, "x1", "y1", "circle"),
          series(herSoftCoreCircles, "x1", "y1", "circle"),
          series(herSoftCrosses, "x1", "y1", "cross"),
          series(herSoftCoreCrosses, "x1", "y1", "cross"),
          series(velaSoftCircles, "x2", "y1", "circle"),
          series(velaSoftCrosses, "x2", "y1", "cross"),
          series(smcSoftCircles, "x3", "y1", "circle"),
          series(smcSoftCrosses, "x3", "y1", "cross"),
          series(herHardCircles, "x1", "y2", "circle"),
          series(herHardCoreCircles, "x1", "y2", "circle"),
          series(herHardCrosses, "x1", "y2", "cross"),
          series(velaHardCircles, "x2", "y2", "circle"),
          series(velaHardCrosses, "x2", "y2", "cross"),
          series(smcHardCircles, "x3", "y2", "circle"),
          series(smcHardCrosses, "x3", "y2", "cross"),
        ] as any,
      },
      options: {
        animation: false,
        responsive: false,
        events: [],
        layout: { autoPadding: false, padding: { left: 0, top: 6, right: 12, bottom: 0 } },
        plugins: { legend: { display: false }, tooltip: { enabled: false }, title: { display: false } },
        scales: {
          x1: xAxis(herRange, herMajor),
          x2: xAxis(velaRange, velaMajor, bottomTitle),
          x3: xAxis(smcRange, smcMajor),
          y1: yAxis(softRange, softMajor, softTitle, 2),
          y2: yAxis(hardRange, hardMajor, hardTitle, 1),
        } as any,
      },
      plugins: [frameAndTicks],
    });
    return () => chart.destroy();
  }, []);
  return (
    <div style={{ position: "fixed", left: 0, top: 0, width: 1153, height: 644, overflow: "hidden", background: "#fff" }}>
      <canvas ref={ref} width={1170} height={644 + CANVAS_SHIFT} style={{ display: "block", marginTop: -CANVAS_SHIFT }} />
    </div>
  );
}
